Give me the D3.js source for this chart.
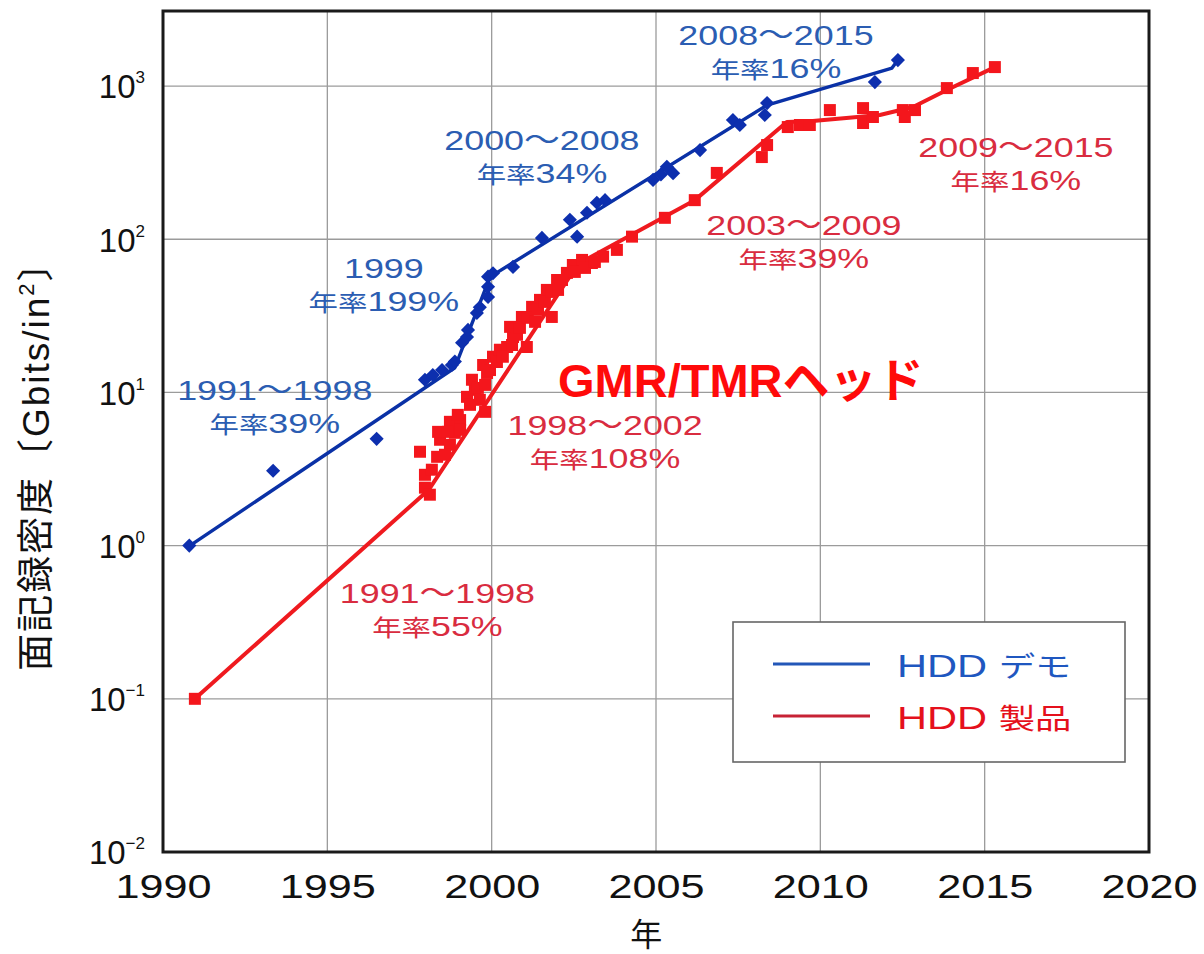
<!DOCTYPE html>
<html>
<head>
<meta charset="utf-8">
<script src="https://cdn.jsdelivr.net/npm/d3@7"></script>
<style>
  html, body { margin: 0; padding: 0; background: #fff; }
  svg { display: block; }
</style>
</head>
<body>
<svg id="chart" width="1204" height="954"></svg>
<script>
// HDD areal recording density: lab demos vs. shipping products (log scale)

// ---- data -------------------------------------------------------------
const demoYears = [1990.8, 1993.35, 1996.5, 1997.97, 1998.21, 1998.49, 1998.79, 1998.88, 1999.10, 1999.25,
  1999.28, 1999.55, 1999.64, 1999.89, 1999.89, 1999.89, 2000.04, 2000.65, 2001.53, 2002.38,
  2002.60, 2002.90, 2003.20, 2003.45, 2004.91, 2005.15, 2005.33, 2005.52, 2006.34, 2007.34,
  2007.55, 2008.38, 2008.31, 2011.66, 2012.36];
const demoDensity = [1.0, 3.08, 4.98, 12.1, 13.0, 14.0, 15.1, 15.9, 21.1, 23.0,
  25.6, 33, 36, 42, 49, 57, 60, 66, 102, 134,
  104, 149, 173, 180, 244, 265, 297, 270, 382, 600,
  557, 774, 647, 1062, 1478];

const productYears = [1990.97, 1997.97, 1998.12, 1997.97, 1997.82, 1998.34, 1998.18, 1998.43, 1998.37, 1998.73,
  1998.88, 1998.73, 1999.04, 1999.25, 1999.49, 1999.40, 1999.80, 1999.64, 1999.86, 1999.74,
  2000.04, 2000.25, 2000.47, 2000.65, 2000.56, 2001.07, 2000.92, 2001.23, 2001.47, 2001.68,
  2001.83, 2001.99, 2002.29, 2002.47, 2002.75, 2003.05, 2003.39, 2003.81, 2004.27, 2005.27,
  2006.18, 2006.85, 2008.22, 2008.38, 2009.01, 2009.38, 2009.68, 2010.29, 2011.30, 2011.30,
  2011.60, 2012.51, 2012.57, 2012.88, 2013.85, 2014.64, 2015.31,
  1998.58, 1998.67, 1999.04, 1998.97, 1999.34, 1999.58, 1999.80, 1999.95, 2000.16, 2000.34,
  2000.62, 2000.77, 2000.86, 2001.10, 2001.32, 2001.41, 2001.62, 2001.83, 2002.02, 2002.14,
  2002.53, 2002.84, 2003.14];
const productDensity = [0.10, 2.39, 2.15, 2.90, 4.10, 3.80, 3.13, 4.91, 5.53, 6.43,
  5.45, 4.55, 6.6, 9.36, 10.4, 12.1, 7.47, 8.95, 13.4, 15.1,
  17.1, 19.0, 19.8, 23.0, 26.8, 19.8, 31.1, 36.2, 40.2, 46.7,
  31.1, 54.2, 60.3, 67.9, 73.3, 70, 77, 85.2, 104, 138,
  180, 271, 344, 412, 540, 557, 557, 697, 718, 574,
  628, 697, 628, 697, 970, 1216, 1330,
  3.92, 5.53, 5.70, 7.14, 8.30, 10.7, 11.2, 14.0, 15.8, 17.1,
  20.4, 23.8, 26.4, 30.7, 28.9, 34.6, 39.0, 45.3, 46.7, 54.2,
  61.2, 65.0, 71.1];

// piecewise growth-trend lines
const demoTrendYears = [1990.82, 1998.88, 1999.95, 2008.38, 2012.18, 2012.36];
const demoTrendDensity = [1.0, 14.5, 56.8, 752, 1310, 1478];
const productTrendYears = [1990.97, 1998.09, 2002.63, 2006.18, 2008.98, 2009.77, 2011.81, 2012.82, 2013.85, 2015.31];
const productTrendDensity = [0.1, 2.32, 69, 180, 582, 591, 647, 730, 942, 1330];

// growth-rate callouts
const demoRateLabels = [
  ["2008〜2015", "年率16%"],
  ["2000〜2008", "年率34%"],
  ["1999", "年率199%"],
  ["1991〜1998", "年率39%"]
];
const productRateLabels = [
  ["2009〜2015", "年率16%"],
  ["2003〜2009", "年率39%"],
  ["1998〜2002", "年率108%"],
  ["1991〜1998", "年率55%"]
];
const headLabel = "GMR/TMRヘッド";

const xTickValues = [1990, 1995, 2000, 2005, 2010, 2015, 2020];
const yTickExponents = [-2, -1, 0, 1, 2, 3];
const seriesNames = ["HDD デモ", "HDD 製品"];
const xTitle = "年";
const yTitle = ["面記録密度〔Gbits/in", "2", "〕"];

// ---- layout -------------------------------------------------------------
const W = 1204, H = 954;
const margin = { top: 11, right: 55, bottom: 102, left: 163 };
const plotW = W - margin.left - margin.right;
const plotH = H - margin.top - margin.bottom;

const BLUE = "#0d2fae", BLUE_LINE = "#0a31a6", BLUE_TEXT = "#2b5db2";
const RED = "#f4161c", RED_LINE = "#ef1a1f", RED_TEXT = "#d92c40";
const LATIN = "'Liberation Sans', Arial, Helvetica, sans-serif";
const MIXED = "'Liberation Sans', 'Noto Sans CJK JP', sans-serif";

const svg = d3.select("#chart");
const g = svg.append("g").attr("transform", `translate(${margin.left},${margin.top})`);

const x = d3.scaleLinear().domain([1990, 2020]).range([0, plotW]);
const y = d3.scaleLog().domain([0.01, Math.pow(10, 3.49)]).range([plotH, 0]);

// ---- grid ---------------------------------------------------------------
g.append("g")
  .selectAll("line")
  .data(xTickValues.slice(1, -1))
  .join("line")
  .attr("x1", d => x(d)).attr("x2", d => x(d))
  .attr("y1", 0).attr("y2", plotH)
  .attr("stroke", "#9b9b9b").attr("stroke-width", 1.3);

g.append("g")
  .selectAll("line")
  .data(yTickExponents.slice(1).map(e => Math.pow(10, e)))
  .join("line")
  .attr("x1", 0).attr("x2", plotW)
  .attr("y1", d => y(d)).attr("y2", d => y(d))
  .attr("stroke", "#9b9b9b").attr("stroke-width", 1.3);

// ---- axes ---------------------------------------------------------------
const xAxis = g.append("g")
  .attr("transform", `translate(0,${plotH})`)
  .call(d3.axisBottom(x).tickValues(xTickValues).tickSize(0).tickPadding(22).tickFormat(d3.format("d")))
  .call(a => a.select(".domain").remove());
xAxis.selectAll(".tick text")
  .attr("font-family", LATIN).attr("font-size", 34).attr("fill", "#111")
  .attr("transform", "scale(1.27,1)");

const yAxis = g.append("g")
  .call(d3.axisLeft(y).tickValues(yTickExponents.map(e => Math.pow(10, e))).tickSize(0).tickPadding(18))
  .call(a => a.select(".domain").remove());
yAxis.selectAll(".tick text").each(function (d) {
  const e = Math.round(Math.log10(d));
  const t = d3.select(this)
    .text(null)
    .attr("font-family", LATIN).attr("font-size", 33).attr("fill", "#111")
    .attr("dy", "0.36em");
  t.append("tspan").text("10");
  t.append("tspan").attr("font-size", 17).attr("dy", -15).text(e < 0 ? "−" + (-e) : String(e));
});

// plot frame
g.append("rect")
  .attr("x", 0).attr("y", 0).attr("width", plotW).attr("height", plotH)
  .attr("fill", "none").attr("stroke", "#1a1a1a").attr("stroke-width", 3);

// axis titles
svg.append("text")
  .attr("transform", `translate(${margin.left + x(2004.7)},${H - 8})`)
  .attr("text-anchor", "middle")
  .attr("font-family", MIXED).attr("font-size", 32).attr("fill", "#111")
  .text(xTitle);

const yt = svg.append("text")
  .attr("transform", `translate(49,${margin.top + y(Math.pow(10, 0.58))}) rotate(-90)`)
  .attr("text-anchor", "middle")
  .attr("font-family", MIXED).attr("font-size", 37).attr("letter-spacing", 2).attr("fill", "#111");
yt.append("tspan").text(yTitle[0]);
yt.append("tspan").attr("font-size", 22).attr("dy", -15).text(yTitle[1]);
yt.append("tspan").attr("dy", 15).text(yTitle[2]);

// ---- trend lines ----------------------------------------------------------
const line = d3.line().x(d => x(d[0])).y(d => y(d[1]));
g.append("path")
  .datum(d3.zip(demoTrendYears, demoTrendDensity))
  .attr("d", line).attr("fill", "none")
  .attr("stroke", BLUE_LINE).attr("stroke-width", 3.4).attr("stroke-linejoin", "round");
g.append("path")
  .datum(d3.zip(productTrendYears, productTrendDensity))
  .attr("d", line).attr("fill", "none")
  .attr("stroke", RED_LINE).attr("stroke-width", 4).attr("stroke-linejoin", "round");

// ---- markers ------------------------------------------------------------
g.append("g")
  .selectAll("path")
  .data(d3.zip(productYears, productDensity))
  .join("path")
  .attr("d", d3.symbol(d3.symbolSquare, 144))
  .attr("transform", d => `translate(${x(d[0])},${y(d[1])})`)
  .attr("fill", RED);

g.append("g")
  .selectAll("path")
  .data(d3.zip(demoYears, demoDensity))
  .join("path")
  .attr("d", d3.symbol(d3.symbolSquare, 100))
  .attr("transform", d => `translate(${x(d[0])},${y(d[1])}) rotate(45)`)
  .attr("fill", BLUE);

// ---- text helpers ---------------------------------------------------------
// split a string into kana/kanji runs and the rest, sized separately
function appendRuns(sel, str, latinSize, cjkSize) {
  const re = /([\u3040-\u30ff\u4e00-\u9fff]+)|([^\u3040-\u30ff\u4e00-\u9fff]+)/g;
  let m;
  while ((m = re.exec(str)) !== null) {
    sel.append("tspan").attr("font-size", m[1] ? cjkSize : latinSize).text(m[0]);
  }
}

function rateNote(lines, year, density, color) {
  const px = x(year), py = y(density);
  lines.forEach((s, i) => {
    const t = g.append("text")
      .attr("transform", `translate(${px},${py + i * 33}) scale(1.28,1)`)
      .attr("text-anchor", "middle")
      .attr("font-family", MIXED).attr("fill", color);
    appendRuns(t, s, 28, 23);
  });
}

// callout anchors: [year, density] of the first line's baseline centre
const demoNoteAnchors = [[2008.65, 1850], [2001.53, 383], [1996.72, 56], [1993.4, 8.96]];
const productNoteAnchors = [[2015.95, 344], [2009.5, 107], [2003.45, 5.28], [1998.35, 0.425]];

demoRateLabels.forEach((ls, i) => rateNote(ls, demoNoteAnchors[i][0], demoNoteAnchors[i][1], BLUE_TEXT));
productRateLabels.forEach((ls, i) => rateNote(ls, productNoteAnchors[i][0], productNoteAnchors[i][1], RED_TEXT));

// head technology callout
g.append("text")
  .attr("x", x(2002.02)).attr("y", y(9.35))
  .attr("font-family", MIXED).attr("font-weight", "bold").attr("font-size", 47)
  .attr("fill", "#ff0a0a")
  .text(headLabel);

// ---- legend -------------------------------------------------------------
const legW = 392, legH = 140;
const legX = plotW - 24 - legW, legY = plotH - 90 - legH;
const leg = g.append("g").attr("transform", `translate(${legX},${legY})`);
leg.append("rect")
  .attr("width", legW).attr("height", legH)
  .attr("fill", "#fff").attr("stroke", "#666").attr("stroke-width", 1.6);
const legColors = [["#2357b8", "#1f57c0"], ["#c72235", "#e5101c"]];
seriesNames.forEach((name, i) => {
  const ly = 42 + i * 52;
  leg.append("line")
    .attr("x1", 40).attr("x2", 137).attr("y1", ly).attr("y2", ly)
    .attr("stroke", legColors[i][0]).attr("stroke-width", 3);
  const t = leg.append("text")
    .attr("transform", `translate(164,${ly + 13}) scale(1.3,1)`)
    .attr("font-family", MIXED).attr("fill", legColors[i][1]);
  appendRuns(t, name, 32, 28);
});
</script>
</body>
</html>
